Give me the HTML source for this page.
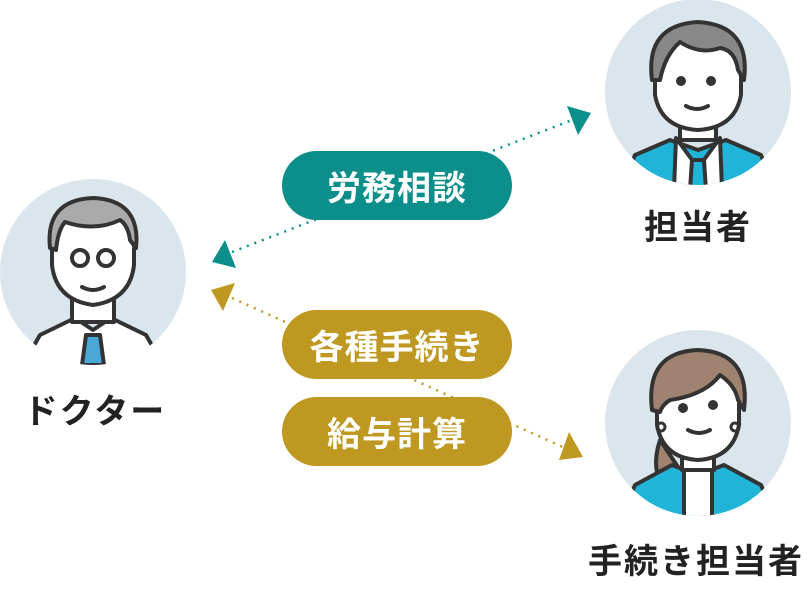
<!DOCTYPE html>
<html><head><meta charset="utf-8"><style>
body{margin:0;width:810px;height:608px;background:#fff;overflow:hidden;position:relative;font-family:"Liberation Sans","Noto Sans CJK JP",sans-serif;}
.pill{position:absolute;left:282px;width:230px;height:69px;border-radius:35px;color:#fff;font-weight:bold;font-size:34px;display:flex;align-items:center;justify-content:center;letter-spacing:1px;}
.lbl{position:absolute;font-weight:bold;font-size:34px;color:#222;text-align:center;letter-spacing:2px;}
svg{position:absolute;left:0;top:0;}
</style></head><body>
<svg width="810" height="608" viewBox="0 0 810 608">
<defs>
<clipPath id="c1"><circle cx="93" cy="272" r="93"/></clipPath>
<clipPath id="c2"><circle cx="698" cy="92" r="93"/></clipPath>
<clipPath id="c3"><circle cx="698" cy="423" r="93"/></clipPath>
</defs>
<line x1="232" y1="252" x2="572" y2="120" stroke="#0c8f8b" stroke-width="2.5" stroke-dasharray="2 6"/>
<polygon points="567,106 591,113 578,135" fill="#0c8f8b"/>
<polygon points="225,240 212,262 236,268" fill="#0c8f8b"/>
<line x1="232" y1="298" x2="565" y2="448" stroke="#bf9822" stroke-width="2.5" stroke-dasharray="2 6"/>
<polygon points="211,290 235,283 223,311" fill="#bf9822"/>
<polygon points="569,432 583,457 559,460" fill="#bf9822"/>
<circle cx="93" cy="272" r="93" fill="#dbe6ec"/>
<g clip-path="url(#c1)" stroke="#333" stroke-width="4" stroke-linecap="round" stroke-linejoin="round">
<path d="M20 370 L40 335 L75 318 L93 330 L111 318 L146 335 L166 370Z" fill="#fff"/>
<path d="M86 335 L100 335 L104 365 L82 365Z" fill="#4aa8d8"/>
<rect x="72" y="290" width="42" height="32" fill="#fff"/>
<path d="M52 250 Q48 200 93 200 Q138 200 134 250 L134 265 Q130 300 93 305 Q56 300 52 265Z" fill="#fff"/>
<path d="M50 248 Q45 200 93 198 Q141 200 136 248 L130 240 Q128 225 120 220 Q95 232 65 222 Q58 230 56 250Z" fill="#aaa"/>
<circle cx="80" cy="258" r="8" fill="none"/><circle cx="106" cy="258" r="8" fill="none"/>
<path d="M82 287 Q93 293 104 287" fill="none"/>
</g>
<circle cx="698" cy="92" r="93" fill="#dbe6ec"/>
<g clip-path="url(#c2)" stroke="#333" stroke-width="4" stroke-linecap="round" stroke-linejoin="round">
<path d="M620 190 L635 155 L670 140 L698 150 L726 140 L761 155 L776 190Z" fill="#1fb4d8"/>
<path d="M676 138 L698 168 L720 138 L722 190 L674 190Z" fill="#fff"/>
<path d="M692 160 L704 160 L706 190 L690 190Z" fill="#1fb4d8"/>
<rect x="680" y="110" width="36" height="30" fill="#fff"/>
<path d="M655 75 Q652 35 698 32 Q744 35 741 75 L741 95 Q735 128 698 130 Q661 128 655 95Z" fill="#fff"/>
<path d="M652 80 Q645 25 698 22 Q751 25 744 80 L738 70 Q735 50 720 48 Q700 55 680 42 Q665 55 660 80Z" fill="#888"/>
<circle cx="681" cy="81" r="3" fill="#333"/><circle cx="711" cy="81" r="3" fill="#333"/>
<path d="M686 106 Q697 112 708 106" fill="none"/>
</g>
<circle cx="698" cy="423" r="93" fill="#dbe6ec"/>
<g clip-path="url(#c3)" stroke="#333" stroke-width="4" stroke-linecap="round" stroke-linejoin="round">
<path d="M660 440 Q650 470 665 490 L680 470Z" fill="#a08270"/>
<path d="M620 520 L635 485 L672 465 L698 475 L724 465 L761 485 L776 520Z" fill="#1fb4d8"/>
<path d="M684 470 L712 470 L712 520 L684 520Z" fill="#fff"/>
<rect x="682" y="440" width="32" height="30" fill="#fff"/>
<path d="M657 405 Q654 365 698 362 Q742 365 739 405 L739 425 Q733 458 698 460 Q663 458 657 425Z" fill="#fff"/>
<path d="M652 410 Q645 352 698 350 Q751 352 744 410 L738 400 Q735 385 720 375 Q705 395 670 400 Q662 405 660 412Z" fill="#a08270"/>
<circle cx="683" cy="408" r="3" fill="#333"/><circle cx="713" cy="405" r="3" fill="#333"/>
<path d="M688 430 Q699 436 710 430" fill="none"/>
<circle cx="661" cy="427" r="4" fill="none" stroke-width="3"/><circle cx="735" cy="427" r="4" fill="none" stroke-width="3"/>
</g>
</svg>
<div class="pill" style="top:151px;background:#0c8f8b;">労務相談</div>
<div class="pill" style="top:310px;background:#bf9822;">各種手続き</div>
<div class="pill" style="top:397px;background:#bf9822;">給与計算</div>
<div class="lbl" style="left:598px;width:200px;top:200px;">担当者</div>
<div class="lbl" style="left:0;width:190px;top:384px;">ドクター</div>
<div class="lbl" style="left:582px;width:228px;top:534px;">手続き担当者</div>
</body></html>
